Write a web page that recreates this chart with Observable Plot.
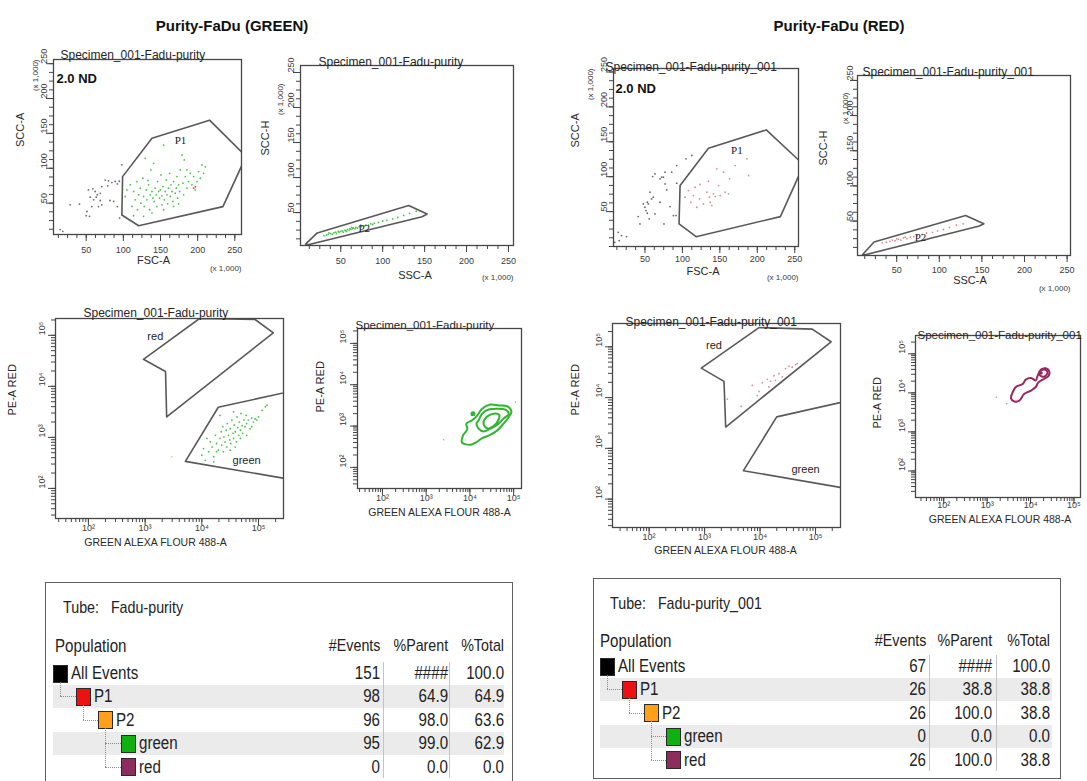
<!DOCTYPE html>
<html><head><meta charset="utf-8">
<script src="https://cdn.jsdelivr.net/npm/d3@7"></script>
<script src="https://cdn.jsdelivr.net/npm/@observablehq/plot@0.6"></script>
<style>
body{margin:0;background:#fff;}
#root{position:relative;width:1087px;height:781px;overflow:hidden;font-family:"Liberation Sans",Arial,sans-serif;background:#fff;}
.heading{position:absolute;font-weight:bold;font-size:15px;color:#111;white-space:nowrap;transform:translate(-50%,-50%);}
.tbl{position:absolute;box-sizing:border-box;border:1.5px solid #5f5f5f;background:#fff;color:#222;font-family:"Liberation Sans",Arial,sans-serif;}
</style></head><body><div id="root"></div>
<script>
// ---------- axis tick labels ----------
const LIN_MAJOR = [50, 100, 150, 200, 250];
const LOG_MAJOR_EXP = [2, 3, 4, 5];
const LOG_LABELS = {2: "10\u00B2", 3: "10\u00B3", 4: "10\u2074", 5: "10\u2075"};

// ---------- GREEN tube: FSC-A vs SCC-A (x1,000) ----------
const gateP1Green = [[99,88],[138.5,143],[216,169],[265,117],[234,45],[120.6,17.6],[98,33]];
const a1Gray = [[28.4,47.6],[41,48.6],[53,69],[59,70.5],[62,66.7],[65,62],[55.4,58.6],[60,54.8],[69,53.8],[71,47.6],[51,38],[50,32],[54.5,31],[75.6,83],[80,82],[84.6,79.5],[89,81],[92,77.6],[94.5,81.4],[98,105],[82,53.8],[87,52.4],[79,74.8],[71,73.8],[63.5,58.6],[66.6,45],[57.6,45],[69,64],[92,45],[95,28.6],[15,12],[18.5,9.5]];
const a1Green = [[102.5,59.5],[104.8,69],[109.3,76.2],[111.5,45.2],[113.8,66.7],[116,54.8],[118.2,80.9],[119.1,40.5],[120.5,61.9],[122.7,71.4],[123.6,50],[126.3,85.7],[127.2,59.5],[128.1,45.2],[129.5,114.3],[130.8,69],[131.7,54.8],[134,76.2],[135.3,40.5],[136.2,61.9],[137.1,97.6],[138.5,66.7],[139.8,57.1],[140.7,107.1],[141.6,52.4],[142.9,71.4],[144.3,61.9],[145.2,45.2],[146.1,80.9],[147.4,66.7],[148.8,57.1],[149.7,69],[150.6,90.5],[151.9,60.5],[153.3,73.8],[154.2,133.3],[155.1,54.8],[156.4,66.7],[157.8,83.3],[158.7,61.9],[159.6,49],[160.9,71.4],[162.3,92.8],[163.1,59.5],[164,76.2],[165.4,66.7],[166.7,52.4],[167.6,80.9],[169.9,64.3],[171.2,71.4],[172.1,88.1],[173,57.1],[174.4,76.2],[175.7,66.7],[176.6,97.6],[178.9,119],[180.2,78.6],[181.1,61.9],[182,111.9],[183.4,88.1],[185.6,71.4],[187.8,80.9],[190.1,92.8],[192.3,76.2],[194.6,88.1],[196.8,69],[199.1,80.9],[201.3,95.2],[205.8,104.7],[208,92.8],[210.3,102],[203.6,85.7],[127.2,31],[138.5,35.7],[154.2,40.5],[167.6,45.2],[113.8,31.9],[133,82.4],[151.9,47.6],[174.4,49],[185.6,97.6]];
const a1Red = [[194.6,71.4],[197,73.5]];

// ---------- GREEN tube: SSC-A vs SCC-H ----------
const gateP2Green = [[8,5],[22,21],[131,60],[153,48],[147,44],[11,4]];
const a2Green = [[30,17],[33,18],[35,19],[38,20],[40,19],[42,21],[44,22],[45,20],[47,23],[48,22],[50,23],[52,24],[53,22],[55,25],[56,24],[58,26],[60,25],[61,27],[62,26],[64,27],[65,28],[67,27],[68,29],[70,28],[72,30],[75,30],[78,31],[80,32],[83,32],[86,34],[90,35],[95,36],[100,38],[105,39],[112,41],[118,43],[125,46],[132,49],[140,52],[36,21],[57,23],[63,29],[74,32],[88,33]];

// ---------- GREEN tube: GREEN ALEXA vs PE-A RED (log10 exponents) ----------
const gateRedA = [[2.97,4.53],[3.96,5.33],[4.94,5.31],[5.26,5.05],[3.38,3.40],[3.36,4.29]];
const gateGreenA = [[3.71,2.53],[4.29,3.59],[5.6,3.91],[5.6,2.17]];
const a3Green = [[4.00,2.65],[4.03,2.78],[4.06,2.55],[4.12,2.72],[4.15,2.91],[4.18,2.81],[4.21,2.62],[4.24,3.04],[4.26,2.88],[4.29,2.75],[4.32,2.98],[4.34,3.11],[4.35,2.85],[4.37,3.21],[4.38,2.72],[4.39,3.01],[4.41,2.91],[4.43,3.14],[4.44,2.81],[4.45,3.27],[4.47,3.04],[4.49,2.95],[4.50,3.17],[4.51,2.88],[4.53,3.34],[4.55,3.08],[4.56,2.98],[4.57,3.24],[4.59,3.11],[4.61,2.91],[4.62,3.40],[4.63,3.19],[4.65,3.04],[4.66,3.30],[4.68,3.14],[4.69,3.47],[4.71,3.23],[4.72,3.08],[4.74,3.34],[4.76,3.21],[4.78,3.43],[4.79,3.27],[4.82,3.34],[4.85,3.17],[4.88,3.38],[4.91,3.30],[4.94,3.36],[4.97,3.34],[5.00,3.40],[5.06,3.53],[5.12,3.60],[5.15,3.63],[4.50,2.75],[4.59,2.81],[4.68,2.98],[4.26,2.72],[4.21,2.52],[4.09,2.98],[4.32,3.43],[4.56,3.50],[4.79,3.04],[4.88,3.21]];
const a3Stray = [[3.47,2.62]];

// ---------- GREEN tube: contour (log10 exponents) ----------
const a4Outer = [[3.82,2.60],[3.84,2.77],[3.94,2.92],[3.92,3.06],[4.05,3.14],[4.17,3.26],[4.28,3.42],[4.47,3.52],[4.66,3.50],[4.85,3.48],[4.95,3.35],[4.89,3.22],[4.77,3.06],[4.62,2.89],[4.43,2.77],[4.28,2.71],[4.15,2.61],[4.02,2.55]];
const a4Middle = [[4.20,3.14],[4.28,3.30],[4.43,3.40],[4.62,3.42],[4.81,3.40],[4.89,3.30],[4.77,3.18],[4.62,3.03],[4.47,2.94],[4.31,2.87],[4.20,2.94],[4.15,3.06]];
const a4Inner = [[4.31,3.06],[4.38,3.22],[4.54,3.30],[4.67,3.27],[4.65,3.14],[4.54,3.00],[4.40,2.94]];
const a4Blob = [[4.07,3.30]];
const a4Stray = [[3.40,2.67],[5.04,3.58]];

// ---------- RED tube: FSC-A vs SCC-A ----------
const gateP1Red = [[96.9,87.3],[134.8,140.9],[212,167],[262,117],[230.8,42.8],[118.3,14.1],[95.5,32.3]];
const b1Gray = [[14.3,20.3],[18.8,15.6],[25.4,14.1],[15.6,8.4],[9.8,6],[41,42.8],[43.3,32.3],[50,56.2],[51.3,51.4],[53.1,63.4],[56.7,77.8],[58.9,68.2],[55.8,39.5],[60.3,100.2],[63.4,104],[70.1,96.9],[72.3,99.3],[74.6,99.3],[76.8,89.7],[79,81.1],[70.1,63.4],[63.4,46.7],[54.5,61],[75.4,32.3],[83.5,57.2],[88,44.3],[92.4,90.7],[76.8,106.5],[85.7,106.5],[91.5,44.3],[61.2,70.6],[47.8,61],[53.1,47.6],[92.4,116],[104.9,125.6],[112.5,130.4]];
const b1Pink = [[103.6,70.6],[108,80.1],[111.2,63.4],[114.7,73],[117,84.9],[119.2,56.2],[122.8,68.2],[123.7,88.8],[128.1,61],[132.6,77.8],[134.8,93.5],[136.2,70.6],[137.1,63.4],[139.3,58.6],[141.5,75.4],[143.8,71.5],[146,111.2],[148.2,87.3],[150.4,73],[154.9,106.5],[157.1,77.8],[161.6,75.4],[162.9,96.9],[170.5,116],[186.2,125.6],[188.4,101.7]];

// ---------- RED tube: SSC-A vs SCC-H ----------
const gateP2Red = [[9.8,2.1],[23.4,20.1],[130.9,58],[152.3,46.2],[147,43],[13,2]];
const b2Pink = [[33,19],[38,20],[42,21],[45,23],[48,22],[52,24],[55,23],[58,26],[62,25],[66,27],[70,28],[74,29],[80,31],[85,33],[92,34],[98,36],[105,38],[112,41],[120,44],[128,46],[60,27],[50,25]];

// ---------- RED tube: GREEN ALEXA vs PE-A RED (log10 exponents) ----------
const gateRedB = [[2.94,4.58],[3.98,5.38],[4.94,5.35],[5.28,5.10],[3.38,3.42],[3.35,4.32]];
const gateGreenB = [[3.70,2.56],[4.30,3.62],[5.6,3.94],[5.6,2.20]];
const b3Pink = [[3.41,3.97],[3.66,3.83],[3.86,4.24],[3.98,4.12],[4.04,4.29],[4.13,4.36],[4.19,4.32],[4.25,4.43],[4.28,4.34],[4.34,4.47],[4.40,4.41],[4.46,4.57],[4.52,4.62],[4.58,4.60],[4.64,4.65],[4.67,4.67],[3.95,4.04],[4.16,4.21]];

// ---------- RED tube: contour (log10 exponents) ----------
const b4Outer = [[3.59,4.02],[3.66,4.15],[3.82,4.23],[3.89,4.34],[4.01,4.38],[4.12,4.32],[4.16,4.43],[4.24,4.60],[4.35,4.63],[4.43,4.55],[4.41,4.43],[4.31,4.36],[4.18,4.27],[4.12,4.15],[4.01,4.06],[3.85,3.97],[3.74,3.80],[3.63,3.78],[3.55,3.86]];
const b4Inner = [[4.20,4.49],[4.24,4.57],[4.34,4.59],[4.39,4.53],[4.35,4.44],[4.26,4.42]];
const b4Core = [[4.24,4.51]];
const b4Stray = [[3.21,3.89],[3.45,3.72]];

// ---------- population tables ----------
const popNames = ["All Events", "P1", "P2", "green", "red"];
const popColors = ["#000000", "#ee1111", "#ff9f1a", "#10b010", "#8e2c5e"];
const popLevel = [0, 1, 2, 3, 3];
const popParent = [null, 0, 1, 2, 2];
const greenEvents = ["151", "98", "96", "95", "0"];
const greenPctParent = ["####", "64.9", "98.0", "99.0", "0.0"];
const greenPctTotal = ["100.0", "64.9", "63.6", "62.9", "0.0"];
const redEvents = ["67", "26", "26", "0", "26"];
const redPctParent = ["####", "38.8", "100.0", "0.0", "100.0"];
const redPctTotal = ["100.0", "38.8", "38.8", "0.0", "38.8"];

// =====================================================================
const root = document.getElementById("root");
const SANS = "Liberation Sans, Arial, sans-serif";
const SERIF = "Liberation Serif, Times New Roman, serif";
const GREEN_DOT = "#4cc24c", PINK_DOT = "#dc8c96", GRAY_DOT = "#6a6a6a";
const GATE = "#595959";

function panel(c) {
  const ml = c.ml ?? 52, mr = c.mr ?? 12, mt = c.mt ?? 22, mb = c.mb ?? 42;
  const W = c.right - c.left, H = c.bottom - c.top;
  const log = !!c.log;
  const tv = log ? (e => Math.pow(10, e)) : (v => v);
  const xd = c.xDomain.map(tv), yd = c.yDomain.map(tv);
  const within = (d, v) => v >= d[0] * (log ? 0.999 : 1) - 1e-9 && v <= d[1] * (log ? 1.001 : 1) + 1e-9;
  let minX, majX, minY, majY, fmt;
  if (log) {
    const all = [];
    for (let k = 1; k <= 5; k++) for (let m = 1; m <= 9; m++) all.push(m * Math.pow(10, k));
    const maj = LOG_MAJOR_EXP.map(e => Math.pow(10, e));
    minX = all.filter(v => within(xd, v)); minY = all.filter(v => within(yd, v));
    majX = maj.filter(v => within(xd, v)); majY = maj.filter(v => within(yd, v));
    fmt = v => LOG_LABELS[Math.round(Math.log10(v))];
  } else {
    const all = d3.range(0, 263, 12.5);
    minX = all.filter(v => within(xd, v)); minY = all.filter(v => within(yd, v));
    majX = LIN_MAJOR.filter(v => within(xd, v)); majY = LIN_MAJOR.filter(v => within(yd, v));
    fmt = v => String(v);
  }
  const P = pts => pts.map(([a, b]) => ({x: tv(a), y: tv(b)}));
  const marks = [];
  for (const g of c.gates || []) marks.push(Plot.line(P(g), {x: "x", y: "y", curve: "linear-closed", stroke: GATE, strokeWidth: 1.6, clip: true}));
  for (const s of c.contours || []) marks.push(Plot.line(P(s.pts), {x: "x", y: "y", curve: "catmull-rom-closed", stroke: s.stroke, strokeWidth: s.w ?? 2, clip: true}));
  for (const s of c.dots || []) marks.push(Plot.dot(P(s.pts), {x: "x", y: "y", r: s.r ?? 0.9, fill: s.fill, clip: true}));
  for (const l of c.labels || []) marks.push(Plot.text([l], {x: d => tv(d.at[0]), y: d => tv(d.at[1]), text: d => d.t, fontSize: l.size ?? 11, fontFamily: l.serif ? SERIF : SANS, fill: "#222"}));
  marks.push(Plot.frame({stroke: "#474747", strokeWidth: 1.3}));
  marks.push(Plot.axisX(minX, {anchor: "bottom", tickSize: 4, tickFormat: () => "", stroke: "#444", label: null}));
  marks.push(Plot.axisX(majX, {anchor: "bottom", tickSize: 7, tickFormat: () => "", stroke: "#444", label: null}));
  marks.push(Plot.axisY(minY, {anchor: "left", tickSize: 4, tickFormat: () => "", stroke: "#444", label: null}));
  marks.push(Plot.axisY(majY, {anchor: "left", tickSize: 7, tickFormat: () => "", stroke: "#444", label: null}));
  marks.push(Plot.text(majX, {x: d => d, frameAnchor: "bottom", dy: c.xTickDy, text: fmt, fontSize: 9, fill: "#3a3a3a"}));
  marks.push(Plot.text(majY, {y: d => d, frameAnchor: "left", dx: c.yTickDx, rotate: -90, text: fmt, fontSize: 9, fill: "#3a3a3a"}));
  marks.push(Plot.text([c.title], {frameAnchor: "top-left", dx: c.titleDx, dy: c.titleDy, textAnchor: "start", text: d => d, fontSize: c.titleSize ?? 12, fill: "#262626"}));
  marks.push(Plot.text([c.xLabel], {frameAnchor: "bottom", dx: c.xLabelDx ?? 0, dy: c.xLabelDy, text: d => d, fontSize: c.xLabelSize ?? 11, fill: "#2a2a2a"}));
  marks.push(Plot.text([c.yLabel], {frameAnchor: "left", dx: c.yLabelDx, dy: c.yLabelDy ?? 0, rotate: -90, text: d => d, fontSize: 11, fill: "#2a2a2a"}));
  if (!log) {
    marks.push(Plot.text(["(x 1,000)"], {frameAnchor: "bottom-right", dy: c.kxDy, textAnchor: "end", text: d => d, fontSize: 8, fill: "#3a3a3a"}));
    marks.push(Plot.text(["(x 1,000)"], {frameAnchor: "top-left", dx: c.kyDx, dy: c.kyDy, rotate: -90, textAnchor: "end", text: d => d, fontSize: 8, fill: "#3a3a3a"}));
  }
  if (c.nd) marks.push(Plot.text(["2.0 ND"], {frameAnchor: "top-left", dx: c.nd[0], dy: c.nd[1], textAnchor: "start", text: d => d, fontSize: 13, fontWeight: "bold", fill: "#111"}));

  const svg = Plot.plot({
    width: W + ml + mr, height: H + mt + mb,
    marginLeft: ml, marginRight: mr, marginTop: mt, marginBottom: mb,
    x: {type: log ? "log" : "linear", domain: xd},
    y: {type: log ? "log" : "linear", domain: yd},
    style: {fontFamily: SANS, background: "transparent", color: "#333"},
    marks
  });
  const div = document.createElement("div");
  Object.assign(div.style, {position: "absolute", left: (c.left - ml) + "px", top: (c.top - mt) + "px"});
  div.appendChild(svg);
  root.appendChild(div);
}

const XA = "GREEN ALEXA FLOUR 488-A";
// ----- GREEN half -----
panel({left: 53, top: 59, right: 241, bottom: 234, xDomain: [6, 259], yDomain: [5, 256],
  title: "Specimen_001-Fadu-purity", titleDx: 7, titleDy: -9,
  xLabel: "FSC-A", xLabelDx: 6, xLabelDy: 29, yLabel: "SCC-A", yLabelDx: -33,
  xTickDy: 18, yTickDx: -9, kxDy: 36, kyDx: -21, kyDy: 0, nd: [3, 14],
  gates: [gateP1Green],
  dots: [{pts: a1Gray, fill: GRAY_DOT}, {pts: a1Green, fill: GREEN_DOT}, {pts: a1Red, fill: "#e04848"}],
  labels: [{t: "P1", at: [177, 140], serif: true}]});

panel({left: 300, top: 65, right: 513, bottom: 245, mt: 18, xDomain: [2, 256], yDomain: [3, 260],
  title: "Specimen_001-Fadu-purity", titleDx: 18, titleDy: -8,
  xLabel: "SSC-A", xLabelDx: 8, xLabelDy: 33, yLabel: "SCC-H", yLabelDx: -35,
  xTickDy: 18, yTickDx: -9, kxDy: 34, kyDx: -23, kyDy: 18,
  gates: [gateP2Green],
  dots: [{pts: a2Green, fill: GREEN_DOT}],
  labels: [{t: "P2", at: [78, 27], serif: true}]});

panel({left: 55, top: 318, right: 283, bottom: 518, log: true, xDomain: [1.42, 5.44], yDomain: [1.41, 5.33],
  title: "Specimen_001-Fadu-purity", titleDx: 28, titleDy: -10,
  xLabel: XA, xLabelDx: -14, xLabelDy: 27, xLabelSize: 10.5, yLabel: "PE-A RED", yLabelDx: -43, yLabelDy: -3,
  xTickDy: 12, yTickDx: -13,
  gates: [gateRedA, gateGreenA],
  dots: [{pts: a3Green, fill: GREEN_DOT}, {pts: a3Stray, fill: "#d8d890"}],
  labels: [{t: "red", at: [3.18, 4.97]}, {t: "green", at: [4.79, 2.55]}]});

panel({left: 357, top: 328, right: 521, bottom: 488, log: true, xDomain: [1.43, 5.18], yDomain: [1.49, 5.36],
  title: "Specimen_001-Fadu-purity", titleDx: -2, titleDy: -8, titleSize: 11.5,
  xLabel: XA, xLabelDx: 0, xLabelDy: 27, xLabelSize: 10.5, yLabel: "PE-A RED", yLabelDx: -37, yLabelDy: 4,
  xTickDy: 12, yTickDx: -14,
  contours: [{pts: a4Outer, stroke: "#2fb52f"}, {pts: a4Middle, stroke: "#2fb52f"}, {pts: a4Inner, stroke: "#2fb52f"}],
  dots: [{pts: a4Blob, fill: "#2fb52f", r: 2.5}, {pts: a4Stray, fill: "#aaa", r: 0.8}]});

// ----- RED half -----
panel({left: 613, top: 68, right: 798, bottom: 246, xDomain: [8, 255], yDomain: [0, 255],
  title: "Specimen_001-Fadu-purity_001", titleDx: -8, titleDy: -6,
  xLabel: "FSC-A", xLabelDx: -3, xLabelDy: 28, yLabel: "SCC-A", yLabelDx: -38, yLabelDy: -10,
  xTickDy: 15, yTickDx: -9, kxDy: 33, kyDx: -26, kyDy: 0, nd: [2, 15],
  gates: [gateP1Red],
  dots: [{pts: b1Gray, fill: GRAY_DOT}, {pts: b1Pink, fill: PINK_DOT}],
  labels: [{t: "P1", at: [172.8, 137.6], serif: true}]});

panel({left: 857, top: 75, right: 1070, bottom: 255, mt: 18, xDomain: [4, 254], yDomain: [1, 257],
  title: "Specimen_001-Fadu-purity_001", titleDx: 5, titleDy: -8,
  xLabel: "SSC-A", xLabelDx: 6, xLabelDy: 28, yLabel: "SCC-H", yLabelDx: -34,
  xTickDy: 17, yTickDx: -7, kxDy: 35, kyDx: -15, kyDy: 17,
  gates: [gateP2Red],
  dots: [{pts: b2Pink, fill: PINK_DOT}],
  labels: [{t: "P2", at: [78, 27], serif: true}]});

panel({left: 612, top: 323, right: 840, bottom: 527, log: true, xDomain: [1.34, 5.45], yDomain: [1.44, 5.46],
  title: "Specimen_001-Fadu-purity_001", titleDx: 13, titleDy: -6,
  xLabel: XA, xLabelDx: -1, xLabelDy: 26, xLabelSize: 10.5, yLabel: "PE-A RED", yLabelDx: -37, yLabelDy: -10,
  xTickDy: 12, yTickDx: -13,
  gates: [gateRedB, gateGreenB],
  dots: [{pts: b3Pink, fill: PINK_DOT}],
  labels: [{t: "red", at: [3.17, 5.03]}, {t: "green", at: [4.82, 2.58]}]});

panel({left: 915, top: 335, right: 1080, bottom: 497, mr: 7, log: true, xDomain: [1.35, 5.15], yDomain: [1.32, 5.47],
  title: "Specimen_001-Fadu-purity_001", titleDx: 2, titleDy: -5, titleSize: 11.5,
  xLabel: XA, xLabelDx: 2, xLabelDy: 25, xLabelSize: 10.5, yLabel: "PE-A RED", yLabelDx: -38, yLabelDy: 12,
  xTickDy: 10, yTickDx: -13,
  contours: [{pts: b4Outer, stroke: "#9a2660"}, {pts: b4Inner, stroke: "#9a2660"}],
  dots: [{pts: b4Core, fill: "#9a2660", r: 1.8}, {pts: b4Stray, fill: "#999", r: 0.8}]});

// ----- headings -----
function heading(text, cx, cy) {
  const d = document.createElement("div");
  d.className = "heading"; d.textContent = text;
  d.style.left = cx + "px"; d.style.top = cy + "px";
  root.appendChild(d);
}
heading("Purity-FaDu (GREEN)", 232, 25);
heading("Purity-FaDu (RED)", 839, 25);

// ----- population tables -----
function table(t) {
  const box = document.createElement("div");
  box.className = "tbl";
  Object.assign(box.style, {left: t.left + "px", top: t.top + "px", width: t.width + "px", height: t.height + "px"});
  root.appendChild(box);
  const add = (html, s) => {
    const d = document.createElement("div");
    d.innerHTML = html;
    Object.assign(d.style, {position: "absolute", whiteSpace: "nowrap"}, s);
    box.appendChild(d);
    return d;
  };
  const txt = (html, x, y, size, align) => {
    const s = {top: (y - 11) + "px", height: "22px", lineHeight: "22px", fontSize: size + "px", transform: "scaleX(0.84)"};
    if (align === "right") { s.right = (t.width - 3 - x) + "px"; s.transformOrigin = "right center"; }
    else { s.left = x + "px"; s.transformOrigin = "left center"; }
    return add(html, s);
  };
  const rowY = i => t.row0 + i * t.pitch;
  [1, 3].forEach(i => add("", {left: t.bandL + "px", width: t.bandW + "px", top: (rowY(i) - 11.5) + "px", height: "23px", background: "#ebebeb"}));
  [t.sep1, t.sep2].forEach(x => add("", {left: x + "px", top: (rowY(0) - 11) + "px", height: (rowY(4) - rowY(0) + 22) + "px", width: "0", borderLeft: "1px solid #c4c4c4"}));
  txt("Tube:&nbsp;&nbsp;&nbsp;" + t.tube, t.tubeX, t.tubeY, 17);
  txt("Population", t.popX, t.headY, 18);
  txt("#Events", t.colE, t.headY, 17, "right");
  txt("%Parent", t.colP, t.headY, 17, "right");
  txt("%Total", t.colT, t.headY, 17, "right");
  popNames.forEach((name, i) => {
    const y = rowY(i);
    const bx = t.box0 + popLevel[i] * t.levelStep;
    if (popParent[i] !== null) {
      const p = popParent[i];
      const px = t.box0 + popLevel[p] * t.levelStep + 7;
      const py = rowY(p) + 8.5;
      add("", {left: px + "px", top: py + "px", height: (y - py) + "px", width: "0", borderLeft: "1px dotted #8a8a8a"});
      add("", {left: px + "px", top: y + "px", width: (bx - px) + "px", height: "0", borderTop: "1px dotted #8a8a8a"});
    }
    add("", {left: bx + "px", top: (y - 8.5) + "px", width: "13px", height: "16px", background: popColors[i], border: "1px solid #2a2a2a"});
    txt(name, bx + 18, y, 18);
    txt(t.events[i], t.colE, y, 18, "right");
    txt(t.parent[i], t.colP, y, 18, "right");
    txt(t.total[i], t.colT, y, 18, "right");
  });
}

table({left: 45, top: 582, width: 468, height: 215, tube: "Fadu-purity", tubeX: 17, tubeY: 25,
  popX: 9, headY: 63, row0: 90, pitch: 23.4, colE: 333, colP: 401, colT: 457, sep1: 337, sep2: 403,
  bandL: 7, bandW: 451, box0: 7, levelStep: 22.5,
  events: greenEvents, parent: greenPctParent, total: greenPctTotal});

table({left: 593, top: 578, width: 468, height: 201, tube: "Fadu-purity_001", tubeX: 16, tubeY: 25,
  popX: 6, headY: 62, row0: 87, pitch: 23.4, colE: 331, colP: 397, colT: 455, sep1: 335, sep2: 402,
  bandL: 6, bandW: 452, box0: 6, levelStep: 22,
  events: redEvents, parent: redPctParent, total: redPctTotal});
</script>
</body></html>
